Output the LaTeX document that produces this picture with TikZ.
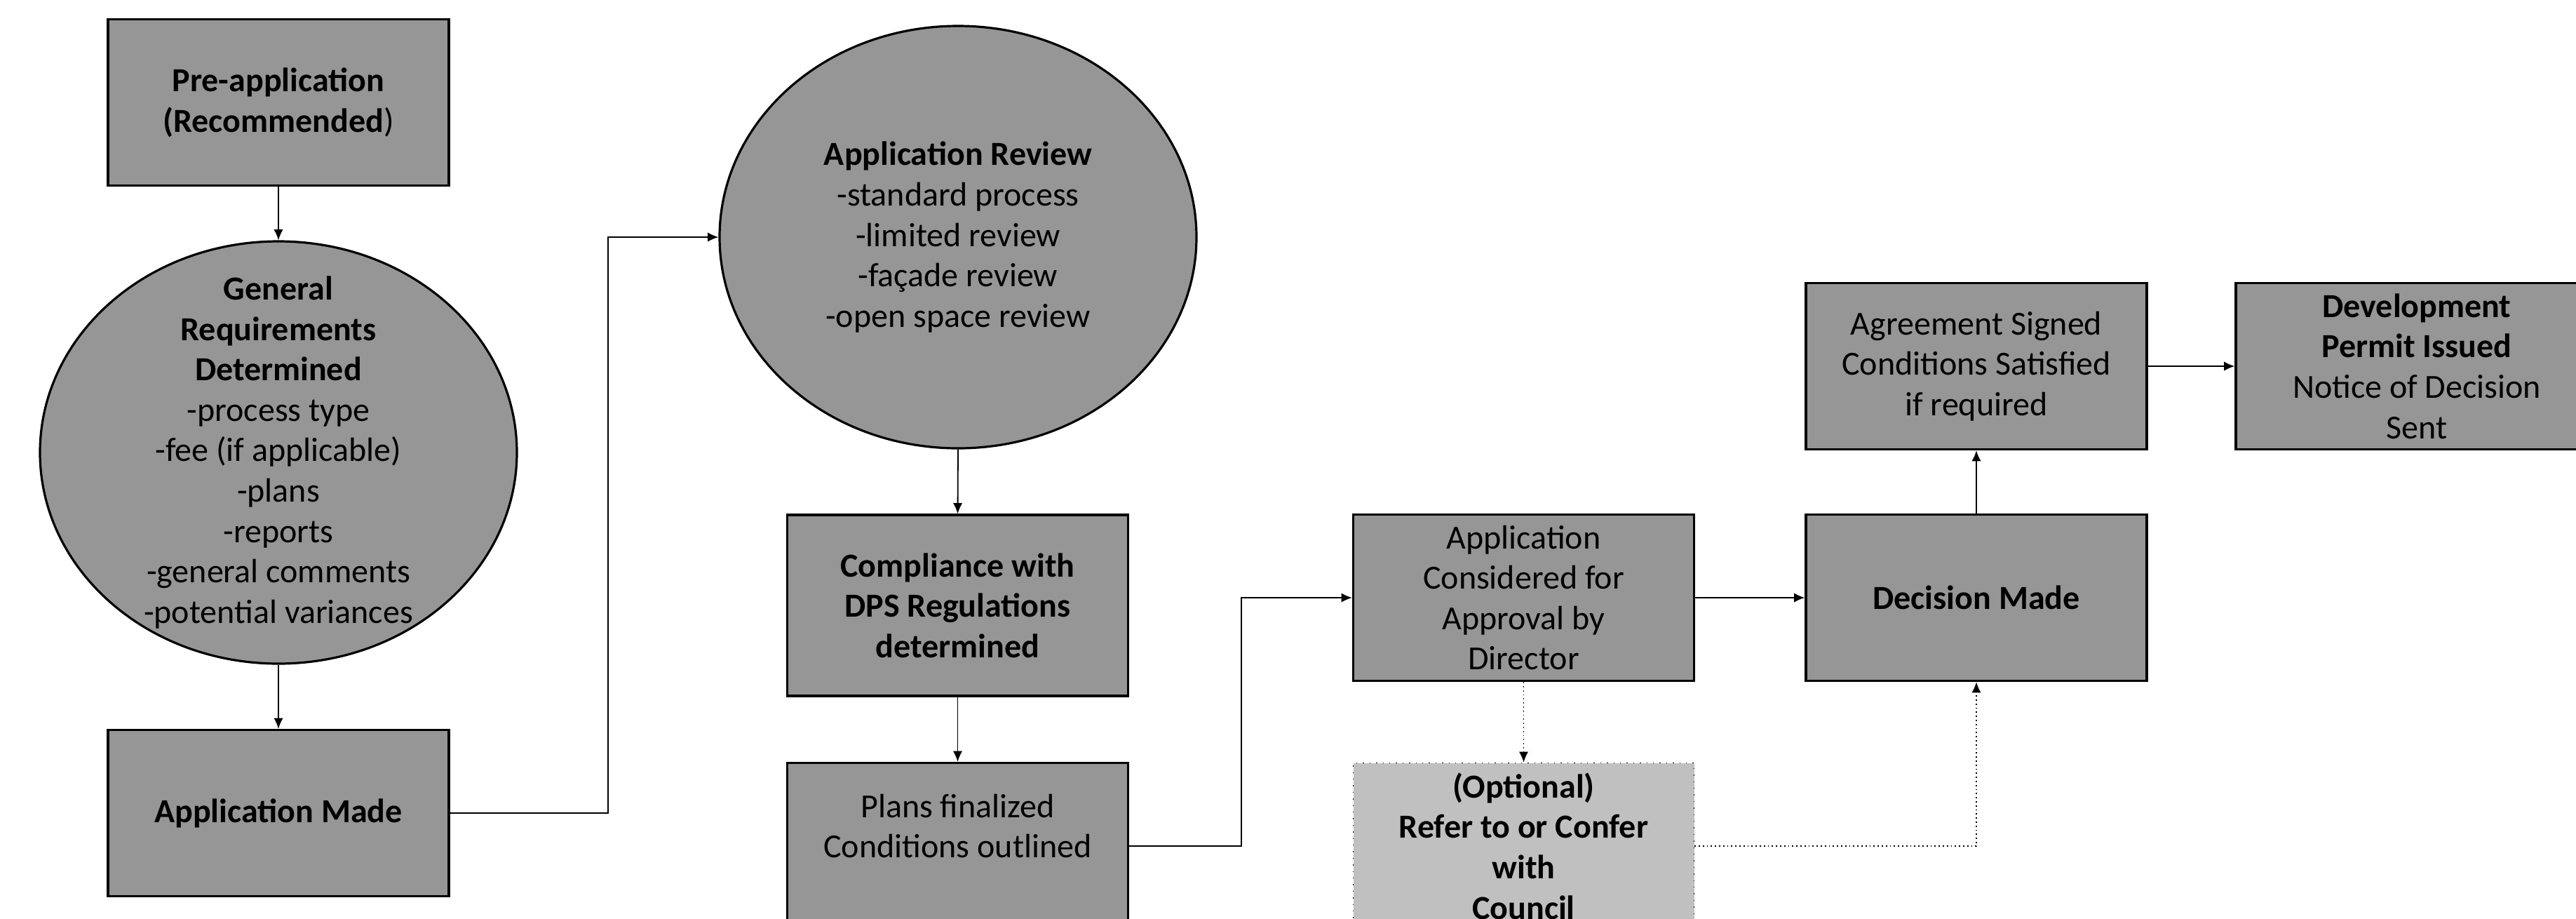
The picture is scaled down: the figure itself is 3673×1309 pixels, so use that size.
\documentclass[tikz,border=0pt]{standalone}
\usepackage{fontspec}
\setmainfont{Carlito}
\usetikzlibrary{shapes.geometric,arrows.meta}
\definecolor{boxgray}{RGB}{150,150,150}
\definecolor{optgray}{RGB}{192,192,192}
\tikzset{
  base/.style={fill=boxgray, draw=black, line width=0.8pt, align=center, inner sep=0pt,
    font=\fontsize{12}{14.4}\selectfont},
  stepbox/.style={base, rectangle, minimum width=121.5pt, minimum height=59.25pt},
  tallbox/.style={stepbox, minimum height=64.5pt},
  optbox/.style={stepbox, fill=optgray, line width=0.35pt, dotted},
  oval/.style={base, ellipse, inner xsep=0pt, inner ysep=-22pt, minimum width=170pt, minimum height=150.5pt},
  arr/.style={-{Latex[length=3.8pt,width=3.3pt]}, line width=0.45pt},
  dotarr/.style={arr, densely dotted}
}
\begin{document}
\begin{tikzpicture}[x=0.25pt,y=-0.25pt]
\useasboundingbox (0,0) rectangle (3673,1309);
\clip (0,0) rectangle (3673,1309);
\node[stepbox] (pre) at (397,146) {\textbf{Pre-application}\\\textbf{(Recommended})};
\node[oval] (gr) at (397,645) {\textbf{General}\\\textbf{Requirements}\\\textbf{Determined}\\-process type\\-fee (if applicable)\\-plans\\-reports\\-general comments\\-potential variances};
\node[stepbox] (made) at (397,1159) {\textbf{Application Made}};
\node[oval] (rev) at (1366,338) {\textbf{Application Review}\\-standard process\\-limited review\\-façade review\\-open space review};
\node[tallbox] (comp) at (1365.5,863) {\textbf{Compliance with}\\\textbf{DPS Regulations}\\\textbf{determined}};
\node[stepbox] (plans) at (1365.5,1206) {Plans finalized\\Conditions outlined\\~};
\node[stepbox] (appr) at (2172.5,852) {Application\\Considered for\\Approval by\\Director};
\node[optbox] (opt) at (2172.5,1206) {\textbf{(Optional)}\\\textbf{Refer to or Confer}\\\textbf{with}\\\textbf{Council}};
\node[stepbox] (dec) at (2818,852) {\textbf{Decision Made}};
\node[stepbox] (agr) at (2818,522) {Agreement Signed\\Conditions Satisfied\\if required};
\node[stepbox, minimum width=129pt] (dev) at (3446,522) {\textbf{Development}\\\textbf{Permit Issued}\\Notice of Decision\\Sent};
\draw[arr] (pre.south) -- (gr.north);
\draw[arr] (gr.south) -- (made.north);
\draw[arr] (made.east) -- ++(225,0) |- (rev.west);
\draw[arr] (rev.south) -- (comp.north);
\draw[arr] (comp.south) -- (plans.north);
\draw[arr] (plans.east) -- ++(160,0) |- (appr.west);
\draw[arr] (appr.east) -- (dec.west);
\draw[arr] (dec.north) -- (agr.south);
\draw[arr] (agr.east) -- (dev.west);
\draw[dotarr] (appr.south) -- (opt.north);
\draw[dotarr] (opt.east) -| (dec.south);
\end{tikzpicture}
\end{document}
